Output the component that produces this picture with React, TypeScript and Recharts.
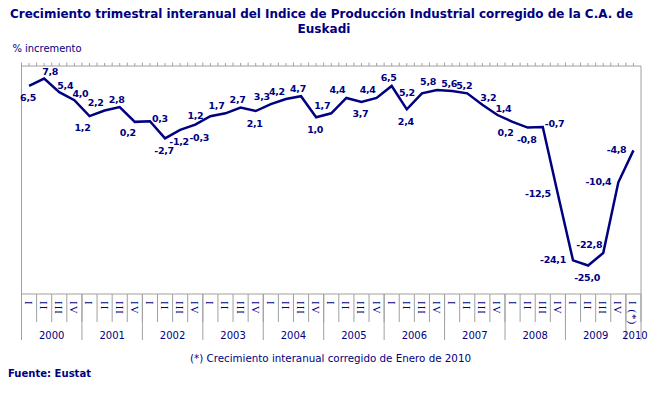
import { LineChart, Line, XAxis, YAxis, LabelList } from "recharts";

const years = ["2000", "2001", "2002", "2003", "2004", "2005", "2006", "2007", "2008", "2009", "2010"];
const quarterNames = ["I", "II", "III", "IV"];
const lastQuarterLabel = "I (*)";

// % interannual growth, 2000-I .. 2010-I
const growth = [
  6.5, 7.8, 5.4, 4.0,
  1.2, 2.2, 2.8, 0.2,
  0.3, -2.7, -1.2, -0.3,
  1.2, 1.7, 2.7, 2.1,
  3.3, 4.2, 4.7, 1.0,
  1.7, 4.4, 3.7, 4.4,
  6.5, 2.4, 5.2, 5.8,
  5.6, 5.2, 3.2, 1.4,
  0.2, -0.8, -0.7, -12.5,
  -24.1, -25.0, -22.8, -10.4,
  -4.8,
];

// where each value label sits relative to its point
const labelSide = [
  "b", "ar", "ar", "ar",
  "bl", "al", "a", "bl",
  "r", "b", "b", "br",
  "l", "al", "a", "b",
  "al", "al", "a", "b",
  "al", "al", "b", "al",
  "a", "b", "l", "al",
  "a", "a", "ar", "ar",
  "bl", "b", "r", "l",
  "l", "b", "al", "l",
  "l",
];

const data = growth.map((v, i) => ({
  q: i === growth.length - 1 ? lastQuarterLabel : quarterNames[i % 4],
  year: years[Math.floor(i / 4)],
  v,
}));

const NAVY = "#000080";
const GRID = "#a0a0a0";
const W = 648;
const H = 393;
const PLOT_LEFT = 21.5;
const PLOT_RIGHT = 641;
const BAND = (PLOT_RIGHT - PLOT_LEFT) / growth.length;
const Q_AXIS_H = 28;
const Y_AXIS_H = 18;

const SIDES: Record<string, { dx: number; dy: number; anchor: "start" | "middle" | "end" }> = {
  a: { dx: -3, dy: -8, anchor: "middle" },
  b: { dx: -1, dy: 12, anchor: "middle" },
  l: { dx: -7, dy: -1, anchor: "end" },
  r: { dx: 2, dy: -3, anchor: "start" },
  al: { dx: -1, dy: -8, anchor: "end" },
  ar: { dx: -2, dy: -7, anchor: "start" },
  bl: { dx: -7, dy: 11, anchor: "middle" },
  br: { dx: 4, dy: 13, anchor: "middle" },
};

function fmt(v: number): string {
  return v.toFixed(1).replace(".", ",");
}

function ValueLabel(props: any) {
  const x = props.viewBox?.x ?? props.x;
  const y = props.viewBox?.y ?? props.y;
  const s = SIDES[labelSide[props.index]] || SIDES.a;
  return (
    <text
      x={x + s.dx}
      y={y + s.dy + 3.5}
      textAnchor={s.anchor}
      fill={NAVY}
      fontFamily="Verdana, 'DejaVu Sans', sans-serif"
      fontWeight="bold"
      fontSize={9.5}
      letterSpacing={-0.3}
    >
      {fmt(props.value)}
    </text>
  );
}

function TopTick(props: any) {
  const { x, y } = props;
  const left = x - BAND / 2;
  return (
    <g>
      <line x1={left} x2={left} y1={y - 3.5} y2={y} stroke={GRID} />
      <line x1={x} x2={x} y1={y - 3} y2={y} stroke={GRID} />
    </g>
  );
}

function QuarterTick(props: any) {
  const { x, y, payload, index } = props;
  const left = x - BAND / 2;
  const isLast = index === growth.length - 1;
  return (
    <g>
      <line x1={left} x2={left} y1={y} y2={y + Q_AXIS_H} stroke={GRID} />
      {isLast && <line x1={x + BAND / 2} x2={x + BAND / 2} y1={y} y2={y + Q_AXIS_H} stroke={GRID} />}
      <text
        transform={`translate(${x},${y + 7}) rotate(90)`}
        textAnchor="start"
        dominantBaseline="central"
        fill={NAVY}
        fontFamily="'Liberation Serif', serif"
        fontSize={11}
        letterSpacing={1}
      >
        {payload.value}
      </text>
    </g>
  );
}

function YearTick(props: any) {
  const { x, y, index } = props;
  const isLast = index === growth.length - 1;
  const yearText = data[index]?.year;
  const left = x - BAND / 2;
  return (
    <g>
      {index % 4 === 0 && (
        <line x1={left} x2={left} y1={y - Q_AXIS_H} y2={y + Y_AXIS_H} stroke={GRID} />
      )}
      {(index % 4 === 1 || isLast) && (
        <text
          x={isLast ? x + 1.5 : x + BAND / 2}
          y={y + 16.5}
          textAnchor="middle"
          fill={NAVY}
          fontFamily="Verdana, 'DejaVu Sans', sans-serif"
          fontSize={10}
        >
          {yearText}
        </text>
      )}
      {isLast && (
        <line x1={x + BAND / 2} x2={x + BAND / 2} y1={y - Q_AXIS_H} y2={y + Y_AXIS_H} stroke={GRID} />
      )}
    </g>
  );
}

const catPadding = { left: BAND / 2, right: BAND / 2 };

export default function App() {
  return (
    <div style={{ position: "absolute", left: 0, top: 0, width: W, height: H, background: "#fff" }}>
      <LineChart
        width={W}
        height={H}
        data={data}
        margin={{ top: 65, right: W - PLOT_RIGHT - 1, bottom: H - 294 - Q_AXIS_H - Y_AXIS_H, left: PLOT_LEFT - 1 }}
      >
        <XAxis
          dataKey="q"
          interval={0}
          padding={catPadding}
          height={Q_AXIS_H}
          tickSize={0}
          tickMargin={0}
          tickLine={false}
          axisLine={{ stroke: GRID }}
          tick={(p: any) => <QuarterTick {...p} />}
        />
        <XAxis
          xAxisId="year"
          dataKey="q"
          interval={0}
          padding={catPadding}
          height={Y_AXIS_H}
          tickSize={0}
          tickMargin={0}
          tickLine={false}
          axisLine={false}
          tick={(p: any) => <YearTick {...p} />}
        />
        <XAxis
          xAxisId="top"
          orientation="top"
          dataKey="q"
          interval={0}
          padding={catPadding}
          height={1}
          tickSize={0}
          tickMargin={0}
          tickLine={false}
          axisLine={{ stroke: GRID }}
          tick={(p: any) => <TopTick {...p} />}
        />
        <YAxis
          domain={[-30, 10]}
          allowDataOverflow
          width={1}
          tick={false}
          tickLine={false}
          axisLine={{ stroke: GRID }}
        />
        <YAxis
          yAxisId="right"
          orientation="right"
          domain={[-30, 10]}
          allowDataOverflow
          width={1}
          tick={false}
          tickLine={false}
          axisLine={{ stroke: GRID }}
        />
        <Line
          type="linear"
          dataKey="v"
          stroke={NAVY}
          strokeWidth={2.5}
          dot={false}
          activeDot={false}
          isAnimationActive={false}
        >
          <LabelList dataKey="v" content={(p: any) => <ValueLabel {...p} />} />
        </Line>
      </LineChart>
      <svg
        width={W}
        height={H}
        style={{ position: "absolute", left: 0, top: 0, pointerEvents: "none" }}
      >
        <g fill={NAVY} fontFamily="Verdana, 'DejaVu Sans', sans-serif">
          <text x={10} y={17.5} fontSize={12} fontWeight="bold" textLength={623} lengthAdjust="spacingAndGlyphs">
            Crecimiento trimestral interanual del Indice de Producción Industrial corregido de la C.A. de
          </text>
          <text x={297.5} y={32.5} fontSize={12} fontWeight="bold" textLength={53} lengthAdjust="spacingAndGlyphs">
            Euskadi
          </text>
          <text x={12.5} y={51.5} fontSize={10} textLength={69} lengthAdjust="spacingAndGlyphs">
            % incremento
          </text>
          <text x={190} y={362} fontSize={10} textLength={281} lengthAdjust="spacingAndGlyphs">
            (*) Crecimiento interanual corregido de Enero de 2010
          </text>
          <text x={8} y={377} fontSize={10} fontWeight="bold" textLength={83} lengthAdjust="spacingAndGlyphs">
            Fuente: Eustat
          </text>
        </g>
      </svg>
    </div>
  );
}
